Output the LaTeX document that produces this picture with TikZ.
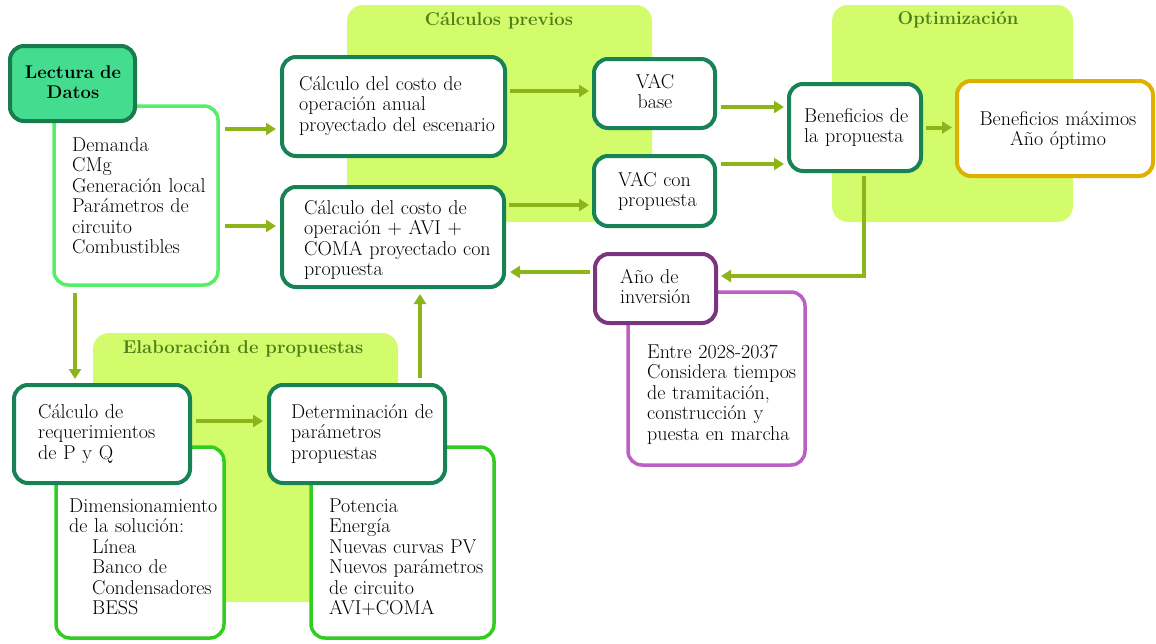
\documentclass[tikz,border=0pt]{standalone}
\usetikzlibrary{arrows.meta}
\definecolor{limebg}{HTML}{D2FC6C}
\definecolor{dkgreen}{HTML}{168255}
\definecolor{hdrfill}{HTML}{44DD90}
\definecolor{hdrline}{HTML}{1A7A50}
\definecolor{ltgreen}{HTML}{55EE66}
\definecolor{brgreen}{HTML}{33CC22}
\definecolor{arrgreen}{HTML}{8DB51A}
\definecolor{dkpurple}{HTML}{7B3580}
\definecolor{ltpurple}{HTML}{BB5FC5}
\definecolor{gold}{HTML}{E0B000}
\definecolor{titlegreen}{HTML}{4F7F1A}
\begin{document}
\begin{tikzpicture}[x=1pt,y=-1pt,
  bgpanel/.style={fill=limebg, draw=none, rounded corners=16pt, inner sep=0pt, outer sep=0pt},
  boxbase/.style={rectangle, rounded corners=14pt, fill=white, inner sep=0pt, outer sep=0pt},
  mainbox/.style={boxbase, draw=dkgreen, line width=4pt},
  bodyL/.style={boxbase, draw=ltgreen, line width=3.5pt},
  bodyB/.style={boxbase, draw=brgreen, line width=3.5pt},
  hdrbox/.style={boxbase, draw=hdrline, fill=hdrfill, line width=4pt},
  purbox/.style={boxbase, draw=dkpurple, line width=4pt},
  purbody/.style={boxbase, draw=ltpurple, line width=3.5pt},
  goldbox/.style={boxbase, draw=gold, line width=4pt},
  txt/.style={font=\fontsize{20}{20.5}\selectfont, inner sep=0pt, text width=260pt, align=left, anchor=base west},
  ctxt/.style={font=\fontsize{20}{20.5}\selectfont, inner sep=0pt, text width=260pt, align=center, anchor=base},
  ttl/.style={font=\bfseries\fontsize{18.5}{20}\selectfont, text=titlegreen, inner sep=0pt, anchor=base},
  arr/.style={draw=arrgreen, line width=4pt, -{Triangle[length=10pt,width=12pt]}}
]
\useasboundingbox (0,0) rectangle (1156,643);
% background panels
\node[bgpanel, minimum width=305pt, minimum height=217pt] (bgcalc) at (499.5,113.5) {};
\node[bgpanel, minimum width=241pt, minimum height=217pt] (bgopt) at (952.5,113.5) {};
\node[bgpanel, minimum width=305pt, minimum height=269pt] (bgelab) at (245.5,467.5) {};
\node[ttl] (tcalc) at (499,25) {Cálculos previos};
\node[ttl] (topt) at (958,24) {Optimización};
\node[ttl] (telab) at (243,353) {Elaboración de propuestas};

% Lectura de datos
\node[bodyL, minimum width=164pt, minimum height=179pt] (lectb) at (136,195.5) {};
\node[hdrbox, minimum width=125pt, minimum height=75pt] (lecth) at (72.5,83.5) {};
\node[ctxt, font=\bfseries\fontsize{18.4}{20}\selectfont] (lectht) at (73,78) {Lectura de\\Datos};
\node[txt] (lectbt) at (72,151) {Demanda\\CMg\\Generación local\\Parámetros de\\circuito\\Combustibles};

% Calculos previos
\node[mainbox, minimum width=223pt, minimum height=99pt] (c1) at (393.5,106.5) {};
\node[txt] (c1t) at (299,90) {Cálculo del costo de\\operación anual\\proyectado del escenario};
\node[mainbox, minimum width=222pt, minimum height=100pt] (c2) at (393,237) {};
\node[txt] (c2t) at (304,214) {Cálculo del costo de\\operación + AVI +\\COMA proyectado con\\propuesta};
\node[mainbox, minimum width=121pt, minimum height=69pt] (vac1) at (654.5,93.5) {};
\node[ctxt] (vac1t) at (655,88) {VAC\\base};
\node[mainbox, minimum width=121pt, minimum height=70pt] (vac2) at (654.5,191) {};
\node[txt] (vac2t) at (618,186) {VAC con\\propuesta};

% Año de inversion
\node[purbody, minimum width=177pt, minimum height=173pt] (aniob) at (716.5,378.5) {};
\node[purbox, minimum width=121pt, minimum height=69pt] (anio) at (655.5,288.5) {};
\node[txt] (aniot) at (620,283) {Año de\\inversión};
\node[txt] (aniobt) at (647,358) {Entre 2028-2037\\Considera tiempos\\de tramitación,\\construcción y\\puesta en marcha};

% Optimizacion
\node[mainbox, minimum width=132pt, minimum height=87pt] (ben) at (855,127.5) {};
\node[txt] (bent) at (804,122) {Beneficios de\\la propuesta};
\node[goldbox, minimum width=196pt, minimum height=95pt] (benmax) at (1055,128.5) {};
\node[ctxt] (benmaxt) at (1058,125) {Beneficios máximos\\Año óptimo};

% Elaboracion de propuestas
\node[bodyB, minimum width=168pt, minimum height=191pt] (reqb) at (140,542.5) {};
\node[mainbox, minimum width=176pt, minimum height=98pt] (req) at (102,434) {};
\node[txt] (reqt) at (38,418) {Cálculo de\\requerimientos\\de P y Q};
\node[txt] (reqbt) at (69,512) {Dimensionamiento\\de la solución:\\\hspace*{23pt}Línea\\\hspace*{23pt}Banco de\\\hspace*{23pt}Condensadores\\\hspace*{23pt}BESS};
\node[bodyB, minimum width=183pt, minimum height=191pt] (detb) at (402.5,542.5) {};
\node[mainbox, minimum width=176pt, minimum height=98pt] (det) at (357,434) {};
\node[txt] (dett) at (291,418) {Determinación de\\parámetros\\propuestas};
\node[txt] (detbt) at (329,512) {Potencia\\Energía\\Nuevas curvas PV\\Nuevos parámetros\\de circuito\\AVI+COMA};

% connectors
\draw[arr, shorten <=7pt, shorten >=6pt] (lectb.east |- 0,129) -- (c1.west |- 0,129);
\draw[arr, shorten <=7pt, shorten >=6pt] (lectb.east |- 0,226) -- (c2.west |- 0,226);
\draw[arr, shorten <=8pt, shorten >=6pt] (lectb.south -| 75,0) -- (req.north -| 75,0);
\draw[arr, shorten <=6pt, shorten >=6pt] (req.east |- 0,421) -- (det.west |- 0,421);
\draw[arr, shorten <=7pt, shorten >=7pt] (det.north -| 420,0) -- (c2.south -| 420,0);
\draw[arr, shorten <=5pt, shorten >=5pt] (c1.east |- 0,91) -- (vac1.west |- 0,91);
\draw[arr, shorten <=5pt, shorten >=5pt] (c2.east |- 0,205) -- (vac2.west |- 0,205);
\draw[arr, shorten <=6pt, shorten >=5pt] (vac1.east |- 0,107) -- (ben.west |- 0,107);
\draw[arr, shorten <=6pt, shorten >=5pt] (vac2.east |- 0,164) -- (ben.west |- 0,164);
\draw[arr, shorten <=5pt, shorten >=5pt] (ben.east) -- (benmax.west |- ben.east);
\draw[arr, shorten <=5pt, shorten >=5pt] (ben.south -| 864,0) |- (anio.east |- 0,276);
\draw[arr, shorten <=5pt, shorten >=6pt] (anio.west |- 0,272) -- (c2.east |- 0,272);
\end{tikzpicture}
\end{document}
